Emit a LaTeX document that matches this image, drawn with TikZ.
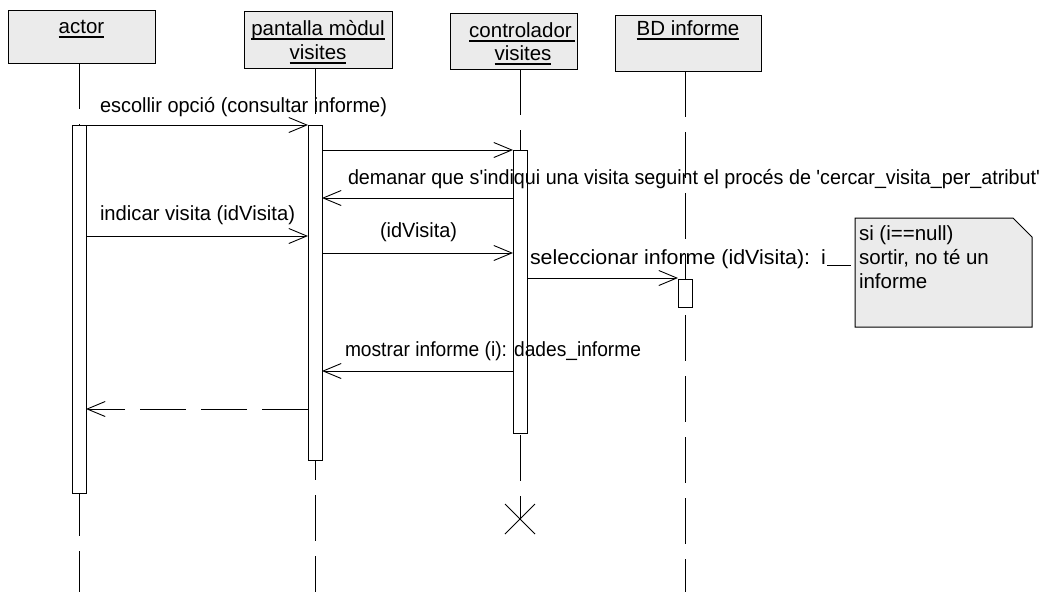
\documentclass[tikz,border=0pt]{standalone}
\usepackage{graphicx}
\usepackage{fontspec}
\setmainfont{Liberation Sans}
\usetikzlibrary{arrows.meta,calc}
\newcommand{\myul}[1]{\setbox0=\hbox{#1}\rlap{\vrule width \wd0 height -2.6pt depth 4.6pt}\box0}
\newcommand{\fitw}[2]{\resizebox{#1}{\height}{#2}}
\begin{document}
\begin{tikzpicture}[x=1pt,y=-1pt,
  every node/.style={font=\fontsize{20.5}{24}\selectfont, inner sep=0pt, outer sep=0pt},
  hdr/.style={draw, fill=black!8, line width=1pt},
  life/.style={line width=0.8pt, dash pattern=on 46pt off 15pt},
  bar/.style={draw, fill=white, line width=0.8pt, minimum width=14pt},
  msg/.style={line width=0.8pt, -{Straight Barb[length=18pt,width=15pt,line width=0.9pt]}},
  ret/.style={msg, dash pattern=on 46pt off 15pt},
  lbl/.style={anchor=base west}]
\useasboundingbox (0,0) rectangle (1047,592);
% headers
\node[hdr, minimum width=147pt, minimum height=53pt] (actor) at (81.5,36.5) {};
\node[anchor=base] (tactor) at (81.5,33) {\myul{actor}};
\node[hdr, minimum width=148pt, minimum height=57pt] (pant) at (318,39.5) {};
\node[anchor=base] (tpant1) at (318,35) {\myul{pantalla mòdul}};
\node[anchor=base] (tpant2) at (318,59) {\myul{visites}};
\node[hdr, minimum width=127pt, minimum height=56pt] (ctrl) at (513.5,41) {};
\node[anchor=base] (tctrl1) at (522,37) {\myul{controlador\hspace{3pt}}};
\node[anchor=base] (tctrl2) at (523,60) {\myul{visites}};
\node[hdr, minimum width=146pt, minimum height=56pt] (bd) at (688,43) {};
\node[anchor=base] (tbd) at (688,35) {\myul{BD informe}};
% lifelines
\coordinate (xend) at (520,519);
\draw[life] (79,0 |- actor.south) -- (79,592);
\draw[life] (315,0 |- pant.south) -- (315,592);
\draw[life] (520,0 |- ctrl.south) -- (xend);
\draw[life] (685,0 |- bd.south) -- (685,592);
% activation bars
\node[bar, minimum height=368pt] (barA) at (79,309) {};
\node[bar, minimum height=335pt] (barP) at (315,292.5) {};
\node[bar, minimum height=283pt] (barC) at (520,291.5) {};
\node[bar, minimum height=28pt] (barB) at (685,293) {};
% destruction
\draw[line width=0.8pt] ($(xend)+(-15,-15)$) -- ($(xend)+(15,15)$);
\draw[line width=0.8pt] ($(xend)+(15,-15)$) -- ($(xend)+(-15,15)$);
% messages
\draw[msg] (barA.east |- 0,125) -- (barP.west |- 0,125);
\node[lbl] (l1) at (100,112) {\fitw{287pt}{escollir opció (consultar informe)}};
\draw[msg] (barP.east |- 0,150) -- (barC.west |- 0,150);
\draw[msg] (barC.west |- 0,198) -- (barP.east |- 0,198);
\node[lbl] (l2) at (348,184) {\fitw{692pt}{demanar que s\textquotesingle indiqui una visita seguint el procés de \textquotesingle cercar\_visita\_per\_atribut\textquotesingle}};
\draw[msg] (barA.east |- 0,236) -- (barP.west |- 0,236);
\node[lbl] (l3) at (100,220) {\fitw{195pt}{indicar visita (idVisita)}};
\draw[msg] (barP.east |- 0,253) -- (barC.west |- 0,253);
\node[lbl] (l4) at (380,237) {\fitw{77pt}{(idVisita)}};
\draw[msg] (barC.east |- 0,278) -- (barB.west |- 0,278);
\node[lbl] (lsel) at (530,264) {\fitw{296pt}{seleccionar informe (idVisita):\hspace{3pt} i}};
\draw[msg] (barC.west |- 0,371) -- (barP.east |- 0,371);
\node[lbl] (l6) at (345,356) {\fitw{296pt}{mostrar informe (i): dades\_informe}};
\draw[ret] (barP.west |- 0,409) -- (barA.east |- 0,409);
% note
\node[minimum width=177pt, minimum height=109pt] (note) at (943.5,272.5) {};
\filldraw[fill=black!8, line width=1pt] (note.north west) -- ([xshift=-19pt]note.north east) -- ([yshift=-19pt]note.north east) -- (note.south east) -- (note.south west) -- cycle;
\node[lbl] (n1) at (859,240) {si (i==null)};
\node[lbl] (n2) at (859,264) {sortir, no té un};
\node[lbl] (n3) at (859,288) {informe};
\draw[line width=0.8pt] (lsel.base east) ++(1,1) coordinate (ni) -- ([xshift=-4pt]ni -| note.west);
\end{tikzpicture}
\end{document}
